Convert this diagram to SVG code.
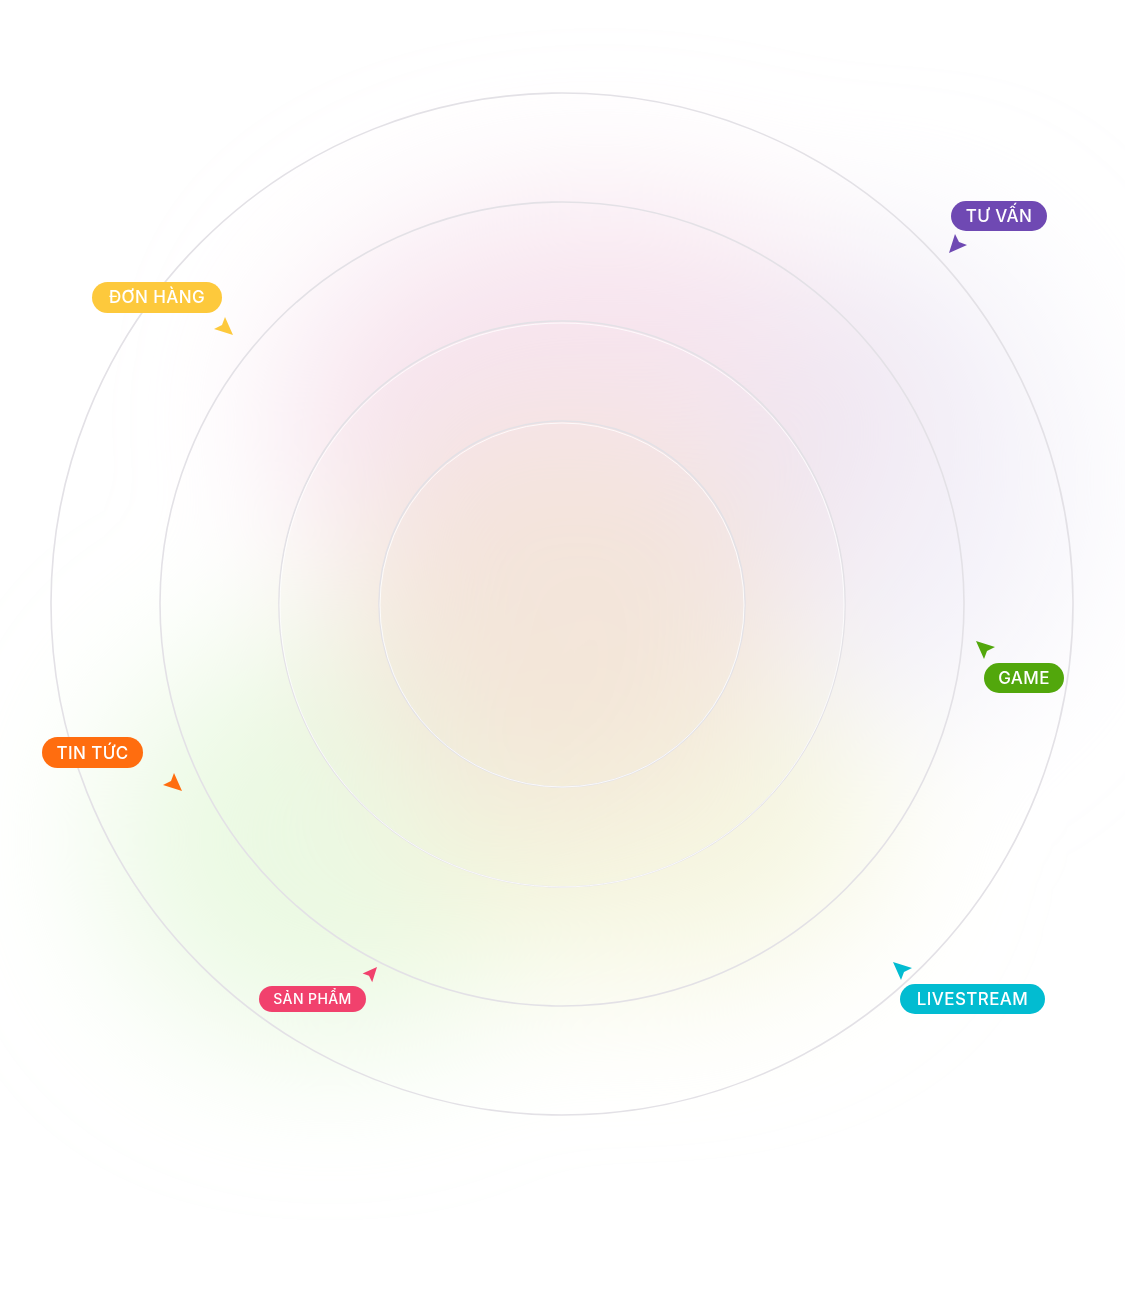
<svg xmlns="http://www.w3.org/2000/svg" width="1125" height="1310" viewBox="0 0 1125 1310">
<style>
.ring{fill:none;stroke:#e3e1e6;stroke-width:1.6}
.ringw{fill:none;stroke:#ffffff;stroke-width:1;opacity:0.8}
.lbl{font-family:Inter,"Liberation Sans",sans-serif;font-size:17px;font-weight:500;fill:#ffffff;text-anchor:middle;dominant-baseline:central;letter-spacing:0.4px}
.sm{font-size:14px}
</style>
<defs>
<filter id="blur" x="-50%" y="-50%" width="200%" height="200%"><feGaussianBlur stdDeviation="75"/></filter>
<path id="cur" d="M0,0 L19,6 L11,10 L8,18 Z"/>
</defs>
<rect width="1125" height="1310" fill="#ffffff"/>
<g id="background" filter="url(#blur)">
<ellipse cx="600" cy="420" rx="320" ry="220" fill="#f4dbe8" opacity="0.75"/>
<ellipse cx="900" cy="480" rx="180" ry="250" fill="#ebe7f4" opacity="0.55"/>
<ellipse cx="330" cy="840" rx="230" ry="210" fill="#e6f8dc" opacity="0.8"/>
<ellipse cx="640" cy="820" rx="250" ry="170" fill="#f4f6dc" opacity="0.85"/>
<ellipse cx="560" cy="620" rx="220" ry="200" fill="#f3e4d8" opacity="0.9"/>
</g>
<g id="rings">
<circle class="ring" cx="562" cy="604" r="511"/>
<circle class="ring" cx="562" cy="604" r="402"/>
<circle class="ring" cx="562" cy="604" r="283"/>
<circle class="ringw" cx="562" cy="605" r="282"/>
<circle class="ring" cx="562" cy="604" r="183"/>
<circle class="ringw" cx="562" cy="605" r="182"/>
</g>
<g id="node-tuvan">
<rect x="951" y="201" width="96" height="30" rx="15" fill="#6f49b3"/>
<text class="lbl" x="999" y="216">TƯ VẤN</text>
<use href="#cur" transform="translate(949,253) rotate(-90)" fill="#6f49b3"/>
</g>
<g id="node-donhang">
<rect x="92" y="282" width="130" height="31" rx="15.5" fill="#fdc93c"/>
<text class="lbl" x="157" y="297">ĐƠN HÀNG</text>
<use href="#cur" transform="translate(233,335) rotate(180)" fill="#fdc93c"/>
</g>
<g id="node-game">
<rect x="984" y="663" width="80" height="30" rx="15" fill="#52a70c"/>
<text class="lbl" x="1024" y="678">GAME</text>
<use href="#cur" transform="translate(976,641)" fill="#52a70c"/>
</g>
<g id="node-tintuc">
<rect x="42" y="737" width="101" height="31" rx="15.5" fill="#ff6d0f"/>
<text class="lbl" x="92.5" y="752.5">TIN TỨC</text>
<use href="#cur" transform="translate(182,791) rotate(180)" fill="#ff6d0f"/>
</g>
<g id="node-sanpham">
<rect x="259" y="986" width="107" height="26" rx="13" fill="#f1416d"/>
<text class="lbl sm" x="312.5" y="998">SẢN PHẨM</text>
<use href="#cur" transform="translate(377,967) rotate(90) scale(0.8)" fill="#f1416d"/>
</g>
<g id="node-livestream">
<rect x="900" y="984" width="145" height="30" rx="15" fill="#02bcd1"/>
<text class="lbl" x="972.5" y="999">LIVESTREAM</text>
<use href="#cur" transform="translate(893,962)" fill="#02bcd1"/>
</g>
</svg>
